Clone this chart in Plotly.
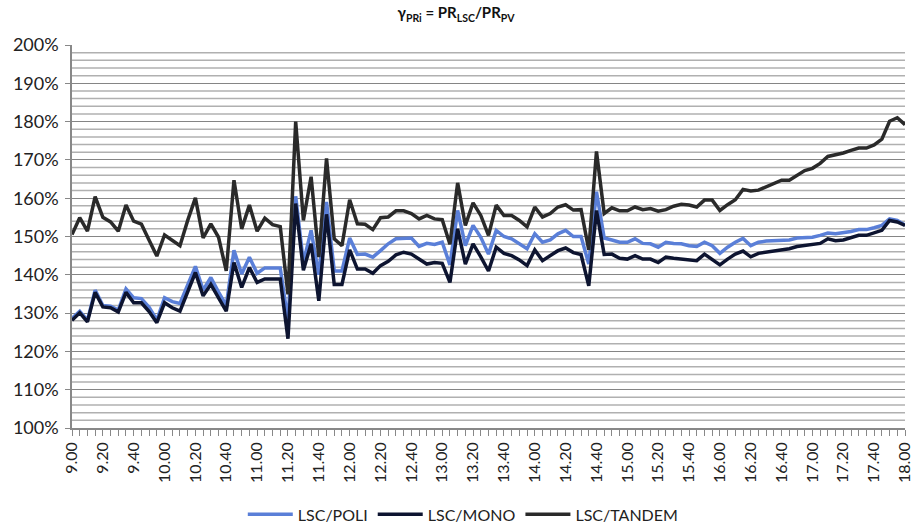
import plotly.graph_objects as go

# time categories every 5 minutes from 9.00 to 18.00
times = []
for h in range(9, 18):
    for m in range(0, 60, 5):
        times.append(f"{h}.{m:02d}")
times.append("18.00")

tick_labels = [t if i % 4 == 0 else "" for i, t in enumerate(times)]

tandem = [150.5, 154.9, 151.4, 160.4, 155.0, 153.8, 151.4, 158.2, 154.0, 153.2,
          149.0, 144.9, 150.4, 149.0, 147.6, 154.2, 160.1, 149.6, 153.3, 149.8,
          141.0, 164.7, 152.0, 158.2, 151.4, 154.8, 153.1, 152.6, 134.9, 180.0,
          154.2, 165.6, 144.6, 170.4, 149.4, 147.6, 159.6, 153.3, 153.2, 151.8,
          154.9, 155.1, 156.7, 156.7, 156.0, 154.6, 155.5, 154.6, 154.4, 148.0,
          164.0, 152.9, 158.8, 155.5, 150.3, 158.2, 155.5, 155.5, 154.2, 152.5,
          157.7, 155.1, 156.0, 157.7, 158.3, 156.9, 157.0, 146.5, 172.2, 156.0,
          157.5, 156.7, 156.7, 157.7, 157.0, 157.3, 156.6, 157.0, 157.9, 158.4,
          158.2, 157.7, 159.5, 159.5, 156.8, 158.3, 159.6, 162.3, 161.9, 162.1,
          163.0, 163.9, 164.7, 164.7, 166.0, 167.2, 167.8, 169.1, 170.9, 171.3,
          171.8, 172.5, 173.1, 173.1, 173.9, 175.4, 180.1, 181.0, 179.2]

poli = [128.6, 130.5, 128.1, 136.0, 132.0, 131.8, 130.8, 136.3, 134.0, 133.8,
        131.5, 128.2, 134.0, 133.0, 132.5, 137.5, 142.2, 136.0, 139.3, 135.5,
        132.0, 146.4, 140.2, 144.6, 140.4, 141.8, 141.8, 141.8, 128.0, 160.5,
        143.2, 151.6, 140.0, 159.0, 141.0, 141.0, 149.6, 145.3, 145.4, 144.6,
        146.3, 148.1, 149.4, 149.6, 149.6, 147.4, 148.2, 147.9, 148.5, 142.6,
        156.8, 147.6, 152.9, 149.8, 145.4, 151.6, 150.0, 149.4, 148.2, 146.8,
        150.7, 148.5, 149.1, 150.7, 151.6, 150.0, 150.0, 142.8, 161.7, 149.6,
        149.1, 148.5, 148.5, 149.4, 148.2, 148.1, 147.2, 148.5, 148.2, 148.1,
        147.6, 147.4, 148.5, 147.6, 145.6, 147.2, 148.5, 149.5, 147.6, 148.5,
        148.8, 148.9, 148.8, 149.1, 149.6, 149.8, 149.8, 150.3, 150.9, 150.7,
        150.9, 151.3, 151.8, 151.8, 152.3, 152.9, 154.6, 154.2, 153.0]

mono = [128.1, 130.1, 127.7, 135.4, 131.6, 131.4, 130.3, 135.4, 132.7, 132.7,
        130.4, 127.5, 132.7, 131.4, 130.5, 135.8, 140.6, 134.5, 137.5, 134.0,
        130.5, 143.2, 136.7, 141.9, 138.0, 138.9, 138.9, 138.9, 123.3, 158.6,
        141.2, 148.1, 133.2, 155.8, 137.5, 137.5, 146.5, 141.5, 141.5, 140.4,
        142.4, 143.5, 145.2, 145.9, 145.4, 144.1, 142.8, 143.2, 143.0, 138.0,
        152.0, 142.8, 148.1, 144.7, 141.0, 147.2, 145.6, 145.0, 143.9, 142.4,
        146.5, 143.7, 145.0, 146.3, 147.0, 145.8, 145.3, 137.1, 156.8, 145.3,
        145.4, 144.3, 144.1, 145.0, 144.1, 144.1, 143.2, 144.6, 144.3, 144.1,
        143.9, 143.7, 145.4, 144.1, 142.6, 144.1, 145.4, 146.2, 144.7, 145.6,
        145.9, 146.1, 146.3, 146.8, 147.4, 147.6, 147.9, 148.2, 149.4, 148.9,
        149.1, 149.8, 150.3, 150.3, 150.9, 151.6, 154.2, 153.8, 152.9]

minor_grid = [v for v in range(102, 200, 2) if v % 10 != 0]

# minor gridlines drawn as one background line trace spanning the category axis
grid_x, grid_y = [], []
for v in minor_grid:
    grid_x += [times[0], times[-1], None]
    grid_y += [v, v, None]

fig = go.Figure()
fig.add_trace(go.Scatter(x=grid_x, y=grid_y, mode="lines", showlegend=False,
                         hoverinfo="skip", connectgaps=False,
                         line=dict(color="#b0b0b0", width=1.5)))
fig.add_trace(go.Scatter(x=times, y=poli, mode="lines", name="LSC/POLI",
                         line=dict(color="#5a7fd8", width=3.5)))
fig.add_trace(go.Scatter(x=times, y=mono, mode="lines", name="LSC/MONO",
                         line=dict(color="#0d1430", width=3.5)))
fig.add_trace(go.Scatter(x=times, y=tandem, mode="lines", name="LSC/TANDEM",
                         line=dict(color="#2a2a2a", width=3.5)))

font_family = "Lato, 'Open Sans', sans-serif"

fig.update_layout(
    width=912, height=526,
    margin=dict(l=72, r=7, t=45, b=98, autoexpand=False),
    paper_bgcolor="white", plot_bgcolor="white",
    font=dict(family=font_family, size=15, color="#222"),
    title=dict(text="<b>γ<sub>PRi</sub> = PR<sub>LSC</sub>/PR<sub>PV</sub></b>",
               x=0.5, xanchor="center", y=0.985, yanchor="top",
               font=dict(size=15, color="#111")),
    showlegend=True,
    legend=dict(orientation="h", xref="container", yref="container",
                x=0.508, xanchor="center", y=0.022, yanchor="middle",
                font=dict(size=16, color="#222"), itemwidth=45,
                tracegroupgap=0),
    xaxis=dict(
        type="category", categoryorder="array", categoryarray=times,
        range=[0, len(times) - 1], automargin=False,
        tickmode="array", tickvals=times, ticktext=tick_labels,
        tickangle=-90, ticks="outside", ticklen=6, tickcolor="#888",
        showline=True, linecolor="#888", linewidth=1.5,
        showgrid=False, zeroline=False,
        tickfont=dict(size=16, color="#222"),
    ),
    yaxis=dict(
        range=[100, 200], tickmode="linear", tick0=100, dtick=10,
        ticksuffix="%", ticks="outside", ticklen=5, tickcolor="#888",
        ticklabelstandoff=3,
        showline=True, linecolor="#888", linewidth=1.5, automargin=False,
        showgrid=True, gridcolor="#858585", gridwidth=1.2,
        zeroline=False,
        tickfont=dict(size=18, color="#222"),
    ),
)

fig.write_html("out.html")
